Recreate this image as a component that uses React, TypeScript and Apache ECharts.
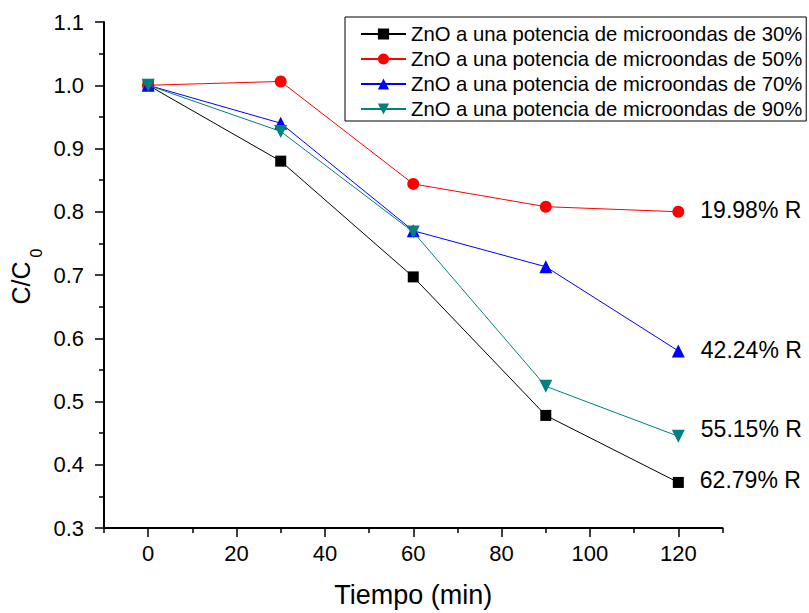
import React, { useEffect, useRef } from "react";
import * as echarts from "echarts";

const times = [0, 30, 60, 90, 120];
const zno30 = [1.0, 0.88, 0.697, 0.478, 0.372];
const zno50 = [1.0, 1.006, 0.844, 0.808, 0.8];
const zno70 = [1.0, 0.94, 0.77, 0.713, 0.58];
const zno90 = [1.0, 0.927, 0.768, 0.524, 0.445];
const seriesNames = [
  "ZnO a una potencia de microondas de 30%",
  "ZnO a una potencia de microondas de 50%",
  "ZnO a una potencia de microondas de 70%",
  "ZnO a una potencia de microondas de 90%",
];
const removalLabels = ["62.79% R", "19.98% R", "42.24% R", "55.15% R"];
const xMajorTicks = [0, 20, 40, 60, 80, 100, 120];
const xMinorTicks = [-10, 10, 30, 50, 70, 90, 110, 130];

const FONT = "Liberation Sans, Arial, sans-serif";

export default function App() {
  const ref = useRef<HTMLDivElement>(null);
  useEffect(() => {
    if (!ref.current) return;
    const chart = echarts.init(ref.current, null, { renderer: "svg" });
    const colors = ["#000000", "#ff0000", "#0000ff", "#008080"];
    const symbols = ["rect", "circle", "triangle", "triangle"];
    const rotates = [0, 0, 0, 180];
    const sizes = [11, 12, 13, 13];
    const labelOffsets = [[0, -2.5], [0, -2], [0, -1], [0, -7]];
    const allData = [zno30, zno50, zno70, zno90];
    const series = allData.map((vals, si) => ({
      name: seriesNames[si],
      type: "line",
      xAxisIndex: 0,
      yAxisIndex: 0,
      symbol: symbols[si],
      symbolSize: sizes[si],
      symbolRotate: rotates[si],
      lineStyle: { color: colors[si], width: 1 },
      itemStyle: { color: colors[si] },
      z: 2 + si,
      data: vals.map((v, i) => {
        const item: any = { value: [times[i], v] };
        if (i === vals.length - 1) {
          item.label = {
            show: true,
            position: "right",
            distance: 16,
            offset: labelOffsets[si],
            formatter: removalLabels[si],
            color: "#000",
            fontSize: 23,
            fontFamily: FONT,
          };
        }
        return item;
      }),
    }));

    chart.setOption({
      animation: false,
      backgroundColor: "#ffffff",
      textStyle: { fontFamily: FONT },
      grid: { left: 104, top: 22, width: 618.5, height: 508.5, containLabel: false },
      legend: {
        orient: "vertical",
        left: 345,
        top: 17,
        padding: [7, 4, 2, 15],
        itemGap: 5,
        itemWidth: 45,
        itemHeight: 14,
        borderColor: "#000",
        borderWidth: 1,
        textStyle: { fontSize: 20.3, lineHeight: 20, color: "#000", fontFamily: FONT },
        data: seriesNames,
      },
      xAxis: [
        {
          type: "value",
          min: -10,
          max: 130,
          position: "bottom",
          name: "Tiempo (min)",
          nameLocation: "middle",
          nameGap: 53,
          nameTextStyle: { fontSize: 27, color: "#000", fontFamily: FONT },
          axisLine: { show: true, onZero: false, lineStyle: { color: "#000", width: 2 } },
          axisTick: { show: true, inside: false, length: 9, customValues: xMajorTicks, lineStyle: { color: "#000", width: 1.5 } },
          axisLabel: { show: true, customValues: xMajorTicks, fontSize: 22, color: "#000", margin: 14, fontFamily: FONT },
          splitLine: { show: false },
        },
        {
          type: "value",
          min: -10,
          max: 130,
          position: "bottom",
          axisLine: { show: false, onZero: false },
          axisTick: { show: true, inside: false, length: 5, customValues: xMinorTicks, lineStyle: { color: "#000", width: 1.5 } },
          axisLabel: { show: false },
          splitLine: { show: false },
        },
      ],
      yAxis: {
        type: "value",
        min: 0.3,
        max: 1.1,
        interval: 0.1,
        axisLine: { show: true, onZero: false, lineStyle: { color: "#000", width: 2 } },
        axisTick: { show: true, inside: false, length: 9, lineStyle: { color: "#000", width: 1.5 } },
        minorTick: { show: true, splitNumber: 2, length: 5, lineStyle: { color: "#000", width: 1.5 } },
        axisLabel: {
          fontSize: 22,
          color: "#000",
          margin: 20,
          fontFamily: FONT,
          formatter: (v: number) => v.toFixed(1),
        },
        splitLine: { show: false },
        minorSplitLine: { show: false },
      },
      graphic: [
        {
          type: "group",
          x: 20.5,
          y: 304.5,
          rotation: Math.PI / 2,
          children: [
            {
              type: "text",
              x: 0,
              y: 0,
              style: {
                text: "C/C",
                fontSize: 25,
                fontFamily: FONT,
                fill: "#000",
                align: "left",
                verticalAlign: "middle",
              },
            },
            {
              type: "text",
              x: 47,
              y: 16,
              style: {
                text: "0",
                fontSize: 16,
                fontFamily: FONT,
                fill: "#000",
                align: "left",
                verticalAlign: "middle",
              },
            },
          ],
        },
      ],
      series,
    });
    return () => chart.dispose();
  }, []);
  return (
    <div
      ref={ref}
      style={{ position: "fixed", left: 0, top: 0, width: 809, height: 613, background: "#fff" }}
    />
  );
}
